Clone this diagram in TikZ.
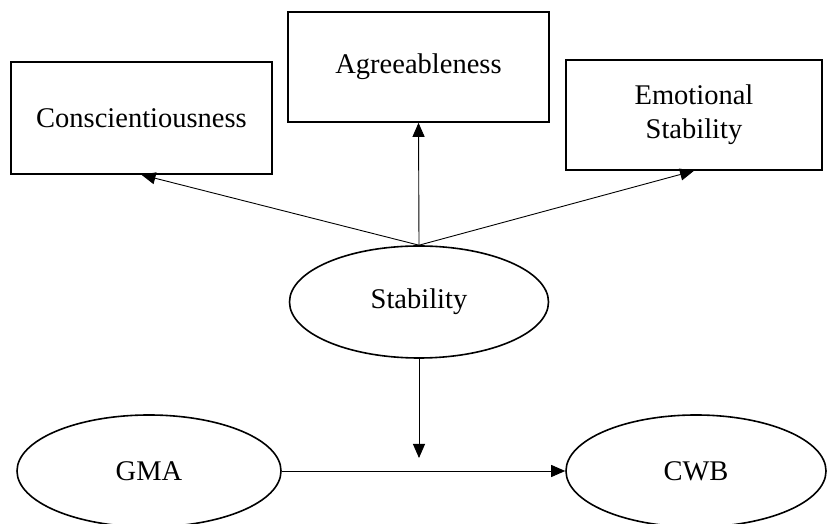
\documentclass[tikz,border=0pt]{standalone}
\usepackage{fontspec}
\setmainfont{Liberation Serif}
\usetikzlibrary{shapes.geometric,arrows.meta}
\tikzstyle{trait} = [draw, line width=1.6pt, minimum width=258pt, minimum height=110pt, inner sep=0pt, text centered, align=center]
\tikzstyle{latent} = [draw, ellipse, line width=1.6pt, minimum width=260pt, minimum height=112pt, inner sep=0pt]
\tikzstyle{path} = [line width=0.9pt, -{Triangle[length=14pt,width=12pt]}]

\begin{document}
\begin{tikzpicture}[x=1pt,y=1pt,font=\fontsize{28.5}{34}\selectfont]
	\useasboundingbox (0,0) rectangle (827,524);
	% the three facets
	\node[trait, minimum width=261pt, minimum height=112pt] (cons) at (141.5,406) {Conscientiousness};
	\node[trait, minimum width=261pt] (agree) at (418.5,457) {Agreeableness};
	\node[trait, minimum width=256pt] (emot) at (694,409) {Emotional\\Stability};
	% latent factors
	\node[latent, minimum width=259pt] (stab) at (419,222) {Stability};
	\node[latent, minimum width=264pt] (gma) at (149,53) {GMA};
	\node[latent] (cwb) at (696,53) {CWB};
	\coordinate (join) at (419,66);
	% paths
	\draw[path] (stab.north) -- (cons.south);
	\draw[path] (stab.north) -- (agree.south);
	\draw[path] (stab.north) -- (emot.south);
	\draw[path] (stab.south) -- (join);
	\draw[path] (gma.east) -- (cwb.west);
\end{tikzpicture}
\end{document}
